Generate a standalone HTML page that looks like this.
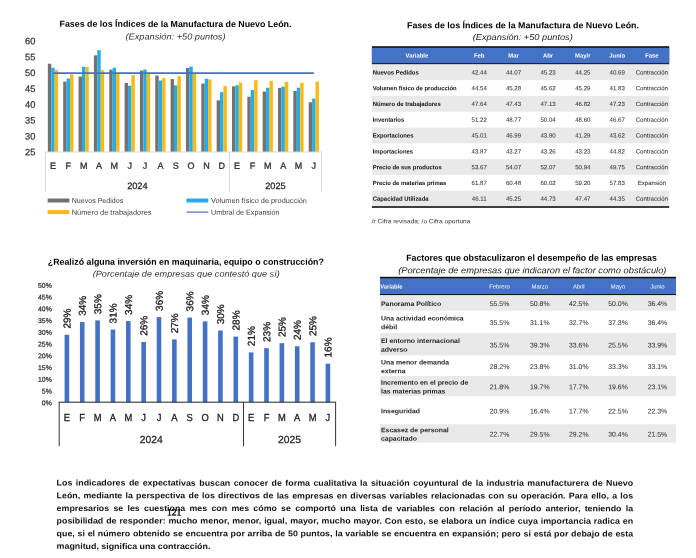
<!DOCTYPE html>
<html lang="es"><head><meta charset="utf-8"><title>Indicadores de expectativas - Manufactura de Nuevo León</title>
<style>
html,body{margin:0;padding:0;background:#fff}
body{width:696px;height:558px;position:relative;overflow:hidden;font-family:"Liberation Sans",sans-serif}
#pg{position:absolute;left:0;top:0;width:696px;height:558px;overflow:hidden;filter:blur(0.4px)}
svg{position:absolute;left:0;top:0}
.t{position:absolute;white-space:nowrap;transform-origin:0 0;margin:0;padding:0}
.b{font-weight:bold}.i{font-style:italic}
.pl{position:absolute;font-weight:bold;white-space:nowrap;text-align:justify;text-align-last:justify;transform-origin:0 0;color:#111}
.pl.last{text-align-last:left}
</style></head><body><div id="pg">
<svg width="696" height="558" viewBox="0 0 696 558">
<rect x="47.86" y="63.72" width="3.41" height="88.28" fill="#767171"/>
<rect x="51.27" y="67.68" width="3.41" height="84.32" fill="#1faee9"/>
<rect x="54.68" y="69.90" width="3.41" height="82.10" fill="#fdb913"/>
<rect x="63.20" y="81.63" width="3.41" height="70.37" fill="#767171"/>
<rect x="66.61" y="78.46" width="3.41" height="73.54" fill="#1faee9"/>
<rect x="70.02" y="74.34" width="3.41" height="77.66" fill="#fdb913"/>
<rect x="78.55" y="76.55" width="3.41" height="75.45" fill="#767171"/>
<rect x="81.96" y="66.73" width="3.41" height="85.27" fill="#1faee9"/>
<rect x="85.37" y="67.04" width="3.41" height="84.96" fill="#fdb913"/>
<rect x="93.89" y="55.31" width="3.41" height="96.69" fill="#767171"/>
<rect x="97.30" y="50.24" width="3.41" height="101.76" fill="#1faee9"/>
<rect x="100.71" y="70.21" width="3.41" height="81.79" fill="#fdb913"/>
<rect x="109.24" y="69.58" width="3.41" height="82.42" fill="#767171"/>
<rect x="112.65" y="67.68" width="3.41" height="84.32" fill="#1faee9"/>
<rect x="116.05" y="73.70" width="3.41" height="78.30" fill="#fdb913"/>
<rect x="124.58" y="82.89" width="3.41" height="69.11" fill="#767171"/>
<rect x="127.99" y="85.75" width="3.41" height="66.25" fill="#1faee9"/>
<rect x="131.40" y="75.29" width="3.41" height="76.71" fill="#fdb913"/>
<rect x="139.92" y="70.53" width="3.41" height="81.47" fill="#767171"/>
<rect x="143.33" y="69.58" width="3.41" height="82.42" fill="#1faee9"/>
<rect x="146.74" y="73.70" width="3.41" height="78.30" fill="#fdb913"/>
<rect x="155.27" y="75.60" width="3.41" height="76.40" fill="#767171"/>
<rect x="158.68" y="80.52" width="3.41" height="71.48" fill="#1faee9"/>
<rect x="162.09" y="78.14" width="3.41" height="73.86" fill="#fdb913"/>
<rect x="170.61" y="79.09" width="3.41" height="72.91" fill="#767171"/>
<rect x="174.02" y="85.27" width="3.41" height="66.73" fill="#1faee9"/>
<rect x="177.43" y="76.24" width="3.41" height="75.76" fill="#fdb913"/>
<rect x="185.96" y="68.00" width="3.41" height="84.00" fill="#767171"/>
<rect x="189.37" y="66.57" width="3.41" height="85.43" fill="#1faee9"/>
<rect x="192.78" y="73.70" width="3.41" height="78.30" fill="#fdb913"/>
<rect x="201.30" y="83.53" width="3.41" height="68.47" fill="#767171"/>
<rect x="204.71" y="78.77" width="3.41" height="73.23" fill="#1faee9"/>
<rect x="208.12" y="79.41" width="3.41" height="72.59" fill="#fdb913"/>
<rect x="216.65" y="100.33" width="3.41" height="51.67" fill="#767171"/>
<rect x="220.06" y="92.09" width="3.41" height="59.91" fill="#1faee9"/>
<rect x="223.47" y="86.06" width="3.41" height="65.94" fill="#fdb913"/>
<rect x="231.99" y="86.38" width="3.41" height="65.62" fill="#767171"/>
<rect x="235.40" y="85.27" width="3.41" height="66.73" fill="#1faee9"/>
<rect x="238.81" y="82.58" width="3.41" height="69.42" fill="#fdb913"/>
<rect x="247.34" y="96.72" width="3.41" height="55.28" fill="#767171"/>
<rect x="250.75" y="90.06" width="3.41" height="61.94" fill="#1faee9"/>
<rect x="254.15" y="80.23" width="3.41" height="71.77" fill="#fdb913"/>
<rect x="262.68" y="91.55" width="3.41" height="60.45" fill="#767171"/>
<rect x="266.09" y="87.71" width="3.41" height="64.29" fill="#1faee9"/>
<rect x="269.50" y="80.90" width="3.41" height="71.10" fill="#fdb913"/>
<rect x="278.02" y="87.87" width="3.41" height="64.13" fill="#767171"/>
<rect x="281.43" y="86.63" width="3.41" height="65.37" fill="#1faee9"/>
<rect x="284.84" y="81.85" width="3.41" height="70.15" fill="#fdb913"/>
<rect x="293.37" y="90.98" width="3.41" height="61.02" fill="#767171"/>
<rect x="296.78" y="87.68" width="3.41" height="64.32" fill="#1faee9"/>
<rect x="300.19" y="82.83" width="3.41" height="69.17" fill="#fdb913"/>
<rect x="308.71" y="102.26" width="3.41" height="49.74" fill="#767171"/>
<rect x="312.12" y="98.65" width="3.41" height="53.35" fill="#1faee9"/>
<rect x="315.53" y="81.53" width="3.41" height="70.47" fill="#fdb913"/>
<line x1="52.97" y1="73.15" x2="313.83" y2="73.15" stroke="#4472c4" stroke-width="1.8"/>
<line x1="45.30" y1="152.00" x2="321.50" y2="152.00" stroke="#d9d9d9" stroke-width="1"/>
<line x1="45.30" y1="152.00" x2="45.30" y2="191.50" stroke="#d9d9d9" stroke-width="1"/>
<line x1="229.43" y1="152.00" x2="229.43" y2="191.50" stroke="#d9d9d9" stroke-width="1"/>
<line x1="321.50" y1="152.00" x2="321.50" y2="191.50" stroke="#d9d9d9" stroke-width="1"/>
<rect x="47.60" y="198.50" width="21.80" height="4.00" fill="#767171"/>
<rect x="47.60" y="210.10" width="21.80" height="4.00" fill="#fdb913"/>
<rect x="186.50" y="198.50" width="21.80" height="4.00" fill="#1faee9"/>
<line x1="186.50" y1="212.10" x2="208.30" y2="212.10" stroke="#4472c4" stroke-width="1.2"/>
<rect x="64.58" y="334.75" width="4.60" height="67.45" fill="#4472c4"/>
<rect x="79.93" y="322.06" width="4.60" height="80.14" fill="#4472c4"/>
<rect x="95.29" y="320.42" width="4.60" height="81.78" fill="#4472c4"/>
<rect x="110.64" y="329.58" width="4.60" height="72.61" fill="#4472c4"/>
<rect x="126.00" y="321.12" width="4.60" height="81.08" fill="#4472c4"/>
<rect x="141.36" y="342.04" width="4.60" height="60.16" fill="#4472c4"/>
<rect x="156.71" y="317.13" width="4.60" height="85.07" fill="#4472c4"/>
<rect x="172.07" y="339.45" width="4.60" height="62.74" fill="#4472c4"/>
<rect x="187.42" y="317.60" width="4.60" height="84.60" fill="#4472c4"/>
<rect x="202.78" y="321.36" width="4.60" height="80.84" fill="#4472c4"/>
<rect x="218.13" y="330.52" width="4.60" height="71.67" fill="#4472c4"/>
<rect x="233.49" y="336.63" width="4.60" height="65.56" fill="#4472c4"/>
<rect x="248.84" y="352.38" width="4.60" height="49.82" fill="#4472c4"/>
<rect x="264.20" y="348.15" width="4.60" height="54.05" fill="#4472c4"/>
<rect x="279.56" y="343.21" width="4.60" height="58.99" fill="#4472c4"/>
<rect x="294.91" y="346.27" width="4.60" height="55.93" fill="#4472c4"/>
<rect x="310.27" y="342.27" width="4.60" height="59.93" fill="#4472c4"/>
<rect x="325.62" y="363.66" width="4.60" height="38.54" fill="#4472c4"/>
<line x1="58.70" y1="402.20" x2="336.10" y2="402.20" stroke="#222" stroke-width="1"/>
<line x1="59.20" y1="402.20" x2="59.20" y2="446.20" stroke="#333" stroke-width="1"/>
<line x1="243.47" y1="402.20" x2="243.47" y2="446.20" stroke="#333" stroke-width="1"/>
<line x1="335.60" y1="402.20" x2="335.60" y2="446.20" stroke="#333" stroke-width="1"/>
<rect x="371.90" y="46.20" width="297.30" height="18.40" fill="#111"/>
<rect x="371.90" y="47.80" width="297.30" height="15.40" fill="#4472c4"/>
<rect x="371.90" y="64.30" width="297.30" height="15.80" fill="#e9e9e9"/>
<rect x="371.90" y="95.90" width="297.30" height="15.80" fill="#e9e9e9"/>
<rect x="371.90" y="127.50" width="297.30" height="15.80" fill="#e9e9e9"/>
<rect x="371.90" y="159.10" width="297.30" height="15.80" fill="#e9e9e9"/>
<rect x="371.90" y="190.70" width="297.30" height="15.80" fill="#e9e9e9"/>
<rect x="371.90" y="206.20" width="297.30" height="1.60" fill="#111"/>
<rect x="380.00" y="276.80" width="296.00" height="18.60" fill="#111"/>
<rect x="380.00" y="278.30" width="296.00" height="15.70" fill="#4472c4"/>
<rect x="380.00" y="295.20" width="296.00" height="15.40" fill="#e9e9e9"/>
<rect x="380.00" y="333.00" width="296.00" height="22.50" fill="#e9e9e9"/>
<rect x="380.00" y="376.00" width="296.00" height="20.20" fill="#e9e9e9"/>
<rect x="380.00" y="424.30" width="296.00" height="18.30" fill="#e9e9e9"/>
</svg>
<div class="t b" style="font-size:8.8px;color:#000;line-height:10px;left:59px;top:18px;transform:translate(0.50px,0.83px) rotate(0.03deg) scaleX(1.005);">Fases de los Índices de la Manufactura de Nuevo León.</div>
<div class="t i" style="font-size:8.6px;color:#333;line-height:10px;left:125px;top:31px;transform:translate(0.50px,0.56px) rotate(0.03deg) scaleX(1.071);">(Expansión: +50 puntos)</div>
<div class="t" style="font-size:9.3px;color:#333;-webkit-text-stroke:0.25px #333;line-height:10px;left:24px;top:147px;transform:translate(0.96px,0.30px) rotate(0.03deg);">25</div>
<div class="t" style="font-size:9.3px;color:#333;-webkit-text-stroke:0.25px #333;line-height:10px;left:24px;top:131px;transform:translate(0.96px,0.45px) rotate(0.03deg);">30</div>
<div class="t" style="font-size:9.3px;color:#333;-webkit-text-stroke:0.25px #333;line-height:10px;left:24px;top:115px;transform:translate(0.96px,0.60px) rotate(0.03deg);">35</div>
<div class="t" style="font-size:9.3px;color:#333;-webkit-text-stroke:0.25px #333;line-height:10px;left:24px;top:99px;transform:translate(0.96px,0.75px) rotate(0.03deg);">40</div>
<div class="t" style="font-size:9.3px;color:#333;-webkit-text-stroke:0.25px #333;line-height:10px;left:24px;top:83px;transform:translate(0.96px,0.90px) rotate(0.03deg);">45</div>
<div class="t" style="font-size:9.3px;color:#333;-webkit-text-stroke:0.25px #333;line-height:10px;left:24px;top:68px;transform:translate(0.96px,0.05px) rotate(0.03deg);">50</div>
<div class="t" style="font-size:9.3px;color:#333;-webkit-text-stroke:0.25px #333;line-height:10px;left:24px;top:52px;transform:translate(0.96px,0.20px) rotate(0.03deg);">55</div>
<div class="t" style="font-size:9.3px;color:#333;-webkit-text-stroke:0.25px #333;line-height:10px;left:24px;top:36px;transform:translate(0.96px,0.35px) rotate(0.03deg);">60</div>
<div class="t" style="font-size:9.0px;color:#303030;-webkit-text-stroke:0.3px #303030;line-height:10px;left:49px;top:160px;transform:translate(0.96px,0.70px) rotate(0.03deg);">E</div>
<div class="t" style="font-size:9.0px;color:#303030;-webkit-text-stroke:0.3px #303030;line-height:10px;left:65px;top:160px;transform:translate(0.57px,0.70px) rotate(0.03deg);">F</div>
<div class="t" style="font-size:9.0px;color:#303030;-webkit-text-stroke:0.3px #303030;line-height:10px;left:79px;top:160px;transform:translate(0.91px,0.70px) rotate(0.03deg);">M</div>
<div class="t" style="font-size:9.0px;color:#303030;-webkit-text-stroke:0.3px #303030;line-height:10px;left:95px;top:160px;transform:translate(1.00px,0.70px) rotate(0.03deg);">A</div>
<div class="t" style="font-size:9.0px;color:#303030;-webkit-text-stroke:0.3px #303030;line-height:10px;left:110px;top:160px;transform:translate(0.60px,0.70px) rotate(0.03deg);">M</div>
<div class="t" style="font-size:9.0px;color:#303030;-webkit-text-stroke:0.3px #303030;line-height:10px;left:127px;top:160px;transform:translate(0.44px,0.70px) rotate(0.03deg);">J</div>
<div class="t" style="font-size:9.0px;color:#303030;-webkit-text-stroke:0.3px #303030;line-height:10px;left:142px;top:160px;transform:translate(0.79px,0.70px) rotate(0.03deg);">J</div>
<div class="t" style="font-size:9.0px;color:#303030;-webkit-text-stroke:0.3px #303030;line-height:10px;left:157px;top:160px;transform:translate(0.38px,0.70px) rotate(0.03deg);">A</div>
<div class="t" style="font-size:9.0px;color:#303030;-webkit-text-stroke:0.3px #303030;line-height:10px;left:172px;top:160px;transform:translate(0.72px,0.70px) rotate(0.03deg);">S</div>
<div class="t" style="font-size:9.0px;color:#303030;-webkit-text-stroke:0.3px #303030;line-height:10px;left:187px;top:160px;transform:translate(0.56px,0.70px) rotate(0.03deg);">O</div>
<div class="t" style="font-size:9.0px;color:#303030;-webkit-text-stroke:0.3px #303030;line-height:10px;left:203px;top:160px;transform:translate(0.17px,0.70px) rotate(0.03deg);">N</div>
<div class="t" style="font-size:9.0px;color:#303030;-webkit-text-stroke:0.3px #303030;line-height:10px;left:218px;top:160px;transform:translate(0.51px,0.70px) rotate(0.03deg);">D</div>
<div class="t" style="font-size:9.0px;color:#303030;-webkit-text-stroke:0.3px #303030;line-height:10px;left:234px;top:160px;transform:translate(0.10px,0.70px) rotate(0.03deg);">E</div>
<div class="t" style="font-size:9.0px;color:#303030;-webkit-text-stroke:0.3px #303030;line-height:10px;left:249px;top:160px;transform:translate(0.70px,0.70px) rotate(0.03deg);">F</div>
<div class="t" style="font-size:9.0px;color:#303030;-webkit-text-stroke:0.3px #303030;line-height:10px;left:264px;top:160px;transform:translate(0.04px,0.70px) rotate(0.03deg);">M</div>
<div class="t" style="font-size:9.0px;color:#303030;-webkit-text-stroke:0.3px #303030;line-height:10px;left:280px;top:160px;transform:translate(0.13px,0.70px) rotate(0.03deg);">A</div>
<div class="t" style="font-size:9.0px;color:#303030;-webkit-text-stroke:0.3px #303030;line-height:10px;left:294px;top:160px;transform:translate(0.73px,0.70px) rotate(0.03deg);">M</div>
<div class="t" style="font-size:9.0px;color:#303030;-webkit-text-stroke:0.3px #303030;line-height:10px;left:311px;top:160px;transform:translate(0.58px,0.70px) rotate(0.03deg);">J</div>
<div class="t" style="font-size:9.2px;color:#222;-webkit-text-stroke:0.25px #222;line-height:10px;left:127px;top:180px;transform:translate(0.14px,0.96px) rotate(0.03deg);">2024</div>
<div class="t" style="font-size:9.2px;color:#222;-webkit-text-stroke:0.25px #222;line-height:10px;left:265px;top:180px;transform:translate(0.24px,0.96px) rotate(0.03deg);">2025</div>
<div class="t" style="font-size:7.2px;color:#404040;line-height:9px;left:71px;top:196px;transform:translate(0.70px,0.08px) rotate(0.03deg) scaleX(0.984);">Nuevos Pedidos</div>
<div class="t" style="font-size:7.2px;color:#404040;line-height:9px;left:71px;top:207px;transform:translate(0.70px,0.68px) rotate(0.03deg) scaleX(1.029);">Número de trabajadores</div>
<div class="t" style="font-size:7.2px;color:#404040;line-height:9px;left:211px;top:196px;transform:translate(0.00px,0.08px) rotate(0.03deg) scaleX(1.022);">Volumen físico de producción</div>
<div class="t" style="font-size:7.2px;color:#404040;line-height:9px;left:211px;top:207px;transform:translate(0.00px,0.68px) rotate(0.03deg) scaleX(0.997);">Umbral de Expansión</div>
<div class="t b" style="font-size:8.8px;color:#000;line-height:10px;left:47px;top:256px;transform:translate(0.80px,0.63px) rotate(0.03deg) scaleX(1.003);">¿Realizó alguna inversión en maquinaria, equipo o construcción?</div>
<div class="t i" style="font-size:8.6px;color:#333;line-height:10px;left:92px;top:268px;transform:translate(0.70px,0.76px) rotate(0.03deg) scaleX(1.061);">(Porcentaje de empresas que contestó que sí)</div>
<div class="t" style="font-size:6.9px;color:#333;-webkit-text-stroke:0.25px #333;line-height:7px;left:41px;top:399px;transform:translate(0.83px,0.37px) rotate(0.03deg);">0%</div>
<div class="t" style="font-size:6.9px;color:#333;-webkit-text-stroke:0.25px #333;line-height:7px;left:41px;top:387px;transform:translate(0.83px,0.62px) rotate(0.03deg);">5%</div>
<div class="t" style="font-size:6.9px;color:#333;-webkit-text-stroke:0.25px #333;line-height:7px;left:38px;top:375px;transform:translate(0.00px,0.87px) rotate(0.03deg);">10%</div>
<div class="t" style="font-size:6.9px;color:#333;-webkit-text-stroke:0.25px #333;line-height:7px;left:38px;top:364px;transform:translate(0.00px,0.12px) rotate(0.03deg);">15%</div>
<div class="t" style="font-size:6.9px;color:#333;-webkit-text-stroke:0.25px #333;line-height:7px;left:38px;top:352px;transform:translate(0.00px,0.37px) rotate(0.03deg);">20%</div>
<div class="t" style="font-size:6.9px;color:#333;-webkit-text-stroke:0.25px #333;line-height:7px;left:38px;top:340px;transform:translate(0.00px,0.62px) rotate(0.03deg);">25%</div>
<div class="t" style="font-size:6.9px;color:#333;-webkit-text-stroke:0.25px #333;line-height:7px;left:38px;top:328px;transform:translate(0.00px,0.87px) rotate(0.03deg);">30%</div>
<div class="t" style="font-size:6.9px;color:#333;-webkit-text-stroke:0.25px #333;line-height:7px;left:38px;top:317px;transform:translate(0.00px,0.12px) rotate(0.03deg);">35%</div>
<div class="t" style="font-size:6.9px;color:#333;-webkit-text-stroke:0.25px #333;line-height:7px;left:38px;top:305px;transform:translate(0.00px,0.37px) rotate(0.03deg);">40%</div>
<div class="t" style="font-size:6.9px;color:#333;-webkit-text-stroke:0.25px #333;line-height:7px;left:38px;top:293px;transform:translate(0.00px,0.62px) rotate(0.03deg);">45%</div>
<div class="t" style="font-size:6.9px;color:#333;-webkit-text-stroke:0.25px #333;line-height:7px;left:38px;top:281px;transform:translate(0.00px,0.87px) rotate(0.03deg);">50%</div>
<div class="t" style="font-size:10px;color:#1a1a1a;-webkit-text-stroke:0.3px #1a1a1a;line-height:11px;left:61px;top:328px;transform:translate(0.52px,0.56px) rotate(-89.97deg) scaleX(1.000);">29%</div>
<div class="t" style="font-size:10px;color:#1a1a1a;-webkit-text-stroke:0.3px #1a1a1a;line-height:11px;left:76px;top:315px;transform:translate(0.87px,0.87px) rotate(-89.97deg) scaleX(1.000);">34%</div>
<div class="t" style="font-size:10px;color:#1a1a1a;-webkit-text-stroke:0.3px #1a1a1a;line-height:11px;left:92px;top:314px;transform:translate(0.23px,0.22px) rotate(-89.97deg) scaleX(1.000);">35%</div>
<div class="t" style="font-size:10px;color:#1a1a1a;-webkit-text-stroke:0.3px #1a1a1a;line-height:11px;left:107px;top:323px;transform:translate(0.58px,0.38px) rotate(-89.97deg) scaleX(1.000);">31%</div>
<div class="t" style="font-size:10px;color:#1a1a1a;-webkit-text-stroke:0.3px #1a1a1a;line-height:11px;left:122px;top:314px;transform:translate(0.94px,0.93px) rotate(-89.97deg) scaleX(1.000);">34%</div>
<div class="t" style="font-size:10px;color:#1a1a1a;-webkit-text-stroke:0.3px #1a1a1a;line-height:11px;left:138px;top:335px;transform:translate(0.30px,0.84px) rotate(-89.97deg) scaleX(1.000);">26%</div>
<div class="t" style="font-size:10px;color:#1a1a1a;-webkit-text-stroke:0.3px #1a1a1a;line-height:11px;left:153px;top:310px;transform:translate(0.65px,0.93px) rotate(-89.97deg) scaleX(1.000);">36%</div>
<div class="t" style="font-size:10px;color:#1a1a1a;-webkit-text-stroke:0.3px #1a1a1a;line-height:11px;left:169px;top:333px;transform:translate(0.01px,0.25px) rotate(-89.97deg) scaleX(1.000);">27%</div>
<div class="t" style="font-size:10px;color:#1a1a1a;-webkit-text-stroke:0.3px #1a1a1a;line-height:11px;left:184px;top:311px;transform:translate(0.36px,0.40px) rotate(-89.97deg) scaleX(1.000);">36%</div>
<div class="t" style="font-size:10px;color:#1a1a1a;-webkit-text-stroke:0.3px #1a1a1a;line-height:11px;left:199px;top:315px;transform:translate(0.72px,0.16px) rotate(-89.97deg) scaleX(1.000);">34%</div>
<div class="t" style="font-size:10px;color:#1a1a1a;-webkit-text-stroke:0.3px #1a1a1a;line-height:11px;left:215px;top:324px;transform:translate(0.07px,0.32px) rotate(-89.97deg) scaleX(1.000);">30%</div>
<div class="t" style="font-size:10px;color:#1a1a1a;-webkit-text-stroke:0.3px #1a1a1a;line-height:11px;left:230px;top:330px;transform:translate(0.43px,0.44px) rotate(-89.97deg) scaleX(1.000);">28%</div>
<div class="t" style="font-size:10px;color:#1a1a1a;-webkit-text-stroke:0.3px #1a1a1a;line-height:11px;left:245px;top:346px;transform:translate(0.78px,0.18px) rotate(-89.97deg) scaleX(1.000);">21%</div>
<div class="t" style="font-size:10px;color:#1a1a1a;-webkit-text-stroke:0.3px #1a1a1a;line-height:11px;left:261px;top:341px;transform:translate(0.14px,0.95px) rotate(-89.97deg) scaleX(1.000);">23%</div>
<div class="t" style="font-size:10px;color:#1a1a1a;-webkit-text-stroke:0.3px #1a1a1a;line-height:11px;left:276px;top:337px;transform:translate(0.50px,0.01px) rotate(-89.97deg) scaleX(1.000);">25%</div>
<div class="t" style="font-size:10px;color:#1a1a1a;-webkit-text-stroke:0.3px #1a1a1a;line-height:11px;left:291px;top:340px;transform:translate(0.85px,0.07px) rotate(-89.97deg) scaleX(1.000);">24%</div>
<div class="t" style="font-size:10px;color:#1a1a1a;-webkit-text-stroke:0.3px #1a1a1a;line-height:11px;left:307px;top:336px;transform:translate(0.21px,0.07px) rotate(-89.97deg) scaleX(1.000);">25%</div>
<div class="t" style="font-size:10px;color:#1a1a1a;-webkit-text-stroke:0.3px #1a1a1a;line-height:11px;left:322px;top:357px;transform:translate(0.56px,0.46px) rotate(-89.97deg) scaleX(1.000);">16%</div>
<div class="t" style="font-size:10.2px;color:#222;-webkit-text-stroke:0.3px #222;line-height:11px;left:63px;top:411px;transform:translate(0.75px,0.71px) rotate(0.03deg) scaleX(0.920);">E</div>
<div class="t" style="font-size:10.2px;color:#222;-webkit-text-stroke:0.3px #222;line-height:11px;left:79px;top:411px;transform:translate(0.37px,0.71px) rotate(0.03deg) scaleX(0.920);">F</div>
<div class="t" style="font-size:10.2px;color:#222;-webkit-text-stroke:0.3px #222;line-height:11px;left:93px;top:411px;transform:translate(0.68px,0.71px) rotate(0.03deg) scaleX(0.920);">M</div>
<div class="t" style="font-size:10.2px;color:#222;-webkit-text-stroke:0.3px #222;line-height:11px;left:109px;top:411px;transform:translate(0.82px,0.71px) rotate(0.03deg) scaleX(0.920);">A</div>
<div class="t" style="font-size:10.2px;color:#222;-webkit-text-stroke:0.3px #222;line-height:11px;left:124px;top:411px;transform:translate(0.39px,0.71px) rotate(0.03deg) scaleX(0.920);">M</div>
<div class="t" style="font-size:10.2px;color:#222;-webkit-text-stroke:0.3px #222;line-height:11px;left:141px;top:411px;transform:translate(0.31px,0.71px) rotate(0.03deg) scaleX(0.920);">J</div>
<div class="t" style="font-size:10.2px;color:#222;-webkit-text-stroke:0.3px #222;line-height:11px;left:156px;top:411px;transform:translate(0.67px,0.71px) rotate(0.03deg) scaleX(0.920);">J</div>
<div class="t" style="font-size:10.2px;color:#222;-webkit-text-stroke:0.3px #222;line-height:11px;left:171px;top:411px;transform:translate(0.24px,0.71px) rotate(0.03deg) scaleX(0.920);">A</div>
<div class="t" style="font-size:10.2px;color:#222;-webkit-text-stroke:0.3px #222;line-height:11px;left:186px;top:411px;transform:translate(0.60px,0.71px) rotate(0.03deg) scaleX(0.920);">S</div>
<div class="t" style="font-size:10.2px;color:#222;-webkit-text-stroke:0.3px #222;line-height:11px;left:201px;top:411px;transform:translate(0.43px,0.71px) rotate(0.03deg) scaleX(0.920);">O</div>
<div class="t" style="font-size:10.2px;color:#222;-webkit-text-stroke:0.3px #222;line-height:11px;left:217px;top:411px;transform:translate(0.05px,0.71px) rotate(0.03deg) scaleX(0.920);">N</div>
<div class="t" style="font-size:10.2px;color:#222;-webkit-text-stroke:0.3px #222;line-height:11px;left:232px;top:411px;transform:translate(0.40px,0.71px) rotate(0.03deg) scaleX(0.920);">D</div>
<div class="t" style="font-size:10.2px;color:#222;-webkit-text-stroke:0.3px #222;line-height:11px;left:248px;top:411px;transform:translate(0.02px,0.71px) rotate(0.03deg) scaleX(0.920);">E</div>
<div class="t" style="font-size:10.2px;color:#222;-webkit-text-stroke:0.3px #222;line-height:11px;left:263px;top:411px;transform:translate(0.63px,0.71px) rotate(0.03deg) scaleX(0.920);">F</div>
<div class="t" style="font-size:10.2px;color:#222;-webkit-text-stroke:0.3px #222;line-height:11px;left:277px;top:411px;transform:translate(0.95px,0.71px) rotate(0.03deg) scaleX(0.920);">M</div>
<div class="t" style="font-size:10.2px;color:#222;-webkit-text-stroke:0.3px #222;line-height:11px;left:294px;top:411px;transform:translate(0.08px,0.71px) rotate(0.03deg) scaleX(0.920);">A</div>
<div class="t" style="font-size:10.2px;color:#222;-webkit-text-stroke:0.3px #222;line-height:11px;left:308px;top:411px;transform:translate(0.66px,0.71px) rotate(0.03deg) scaleX(0.920);">M</div>
<div class="t" style="font-size:10.2px;color:#222;-webkit-text-stroke:0.3px #222;line-height:11px;left:325px;top:411px;transform:translate(0.58px,0.71px) rotate(0.03deg) scaleX(0.920);">J</div>
<div class="t" style="font-size:10.3px;color:#222;-webkit-text-stroke:0.25px #222;line-height:11px;left:139px;top:433px;transform:translate(0.87px,0.94px) rotate(0.03deg);">2024</div>
<div class="t" style="font-size:10.3px;color:#222;-webkit-text-stroke:0.25px #222;line-height:11px;left:278px;top:433px;transform:translate(0.07px,0.94px) rotate(0.03deg);">2025</div>
<div class="t b" style="font-size:8.8px;color:#000;line-height:10px;left:407px;top:20px;transform:translate(0.00px,0.23px) rotate(0.03deg) scaleX(1.005);">Fases de los Índices de la Manufactura de Nuevo León.</div>
<div class="t i" style="font-size:8.6px;color:#222;line-height:10px;left:472px;top:31px;transform:translate(0.70px,0.96px) rotate(0.03deg) scaleX(1.071);">(Expansión: +50 puntos)</div>
<div class="t b" style="font-size:5.9px;color:#fff;line-height:6px;left:405px;top:52px;transform:translate(0.60px,0.53px) rotate(0.03deg);">Variable</div>
<div class="t b" style="font-size:5.9px;color:#fff;line-height:6px;left:473px;top:52px;transform:translate(0.96px,0.53px) rotate(0.03deg);">Feb</div>
<div class="t b" style="font-size:5.9px;color:#fff;line-height:6px;left:508px;top:52px;transform:translate(0.26px,0.53px) rotate(0.03deg);">Mar</div>
<div class="t b" style="font-size:5.9px;color:#fff;line-height:6px;left:543px;top:52px;transform:translate(0.02px,0.53px) rotate(0.03deg);">Abr</div>
<div class="t b" style="font-size:5.9px;color:#fff;line-height:6px;left:575px;top:52px;transform:translate(0.10px,0.53px) rotate(0.03deg);">May/r</div>
<div class="t b" style="font-size:5.9px;color:#fff;line-height:6px;left:609px;top:52px;transform:translate(0.34px,0.53px) rotate(0.03deg);">Jun/o</div>
<div class="t b" style="font-size:5.9px;color:#fff;line-height:6px;left:645px;top:52px;transform:translate(0.18px,0.53px) rotate(0.03deg);">Fase</div>
<div class="t b" style="font-size:6.1px;color:#111;line-height:7px;left:372px;top:68px;transform:translate(0.70px,0.40px) rotate(0.03deg) scaleX(0.970);">Nuevos Pedidos</div>
<div class="t" style="font-size:6.1px;color:#333;-webkit-text-stroke:0.05px #333;line-height:7px;left:471px;top:68px;transform:translate(0.57px,0.40px) rotate(0.03deg);">42.44</div>
<div class="t" style="font-size:6.1px;color:#333;-webkit-text-stroke:0.05px #333;line-height:7px;left:505px;top:68px;transform:translate(0.88px,0.40px) rotate(0.03deg);">44.07</div>
<div class="t" style="font-size:6.1px;color:#333;-webkit-text-stroke:0.05px #333;line-height:7px;left:540px;top:68px;transform:translate(0.48px,0.40px) rotate(0.03deg);">45.23</div>
<div class="t" style="font-size:6.1px;color:#333;-webkit-text-stroke:0.05px #333;line-height:7px;left:575px;top:68px;transform:translate(0.17px,0.40px) rotate(0.03deg);">44.25</div>
<div class="t" style="font-size:6.1px;color:#333;-webkit-text-stroke:0.05px #333;line-height:7px;left:609px;top:68px;transform:translate(0.58px,0.40px) rotate(0.03deg);">40.69</div>
<div class="t" style="font-size:6.1px;color:#333;-webkit-text-stroke:0.05px #333;line-height:7px;left:635px;top:68px;transform:translate(0.63px,0.40px) rotate(0.03deg);">Contracción</div>
<div class="t b" style="font-size:6.1px;color:#111;line-height:7px;left:372px;top:84px;transform:translate(0.70px,0.20px) rotate(0.03deg) scaleX(0.970);">Volumen físico de producción</div>
<div class="t" style="font-size:6.1px;color:#333;-webkit-text-stroke:0.05px #333;line-height:7px;left:471px;top:84px;transform:translate(0.57px,0.20px) rotate(0.03deg);">44.54</div>
<div class="t" style="font-size:6.1px;color:#333;-webkit-text-stroke:0.05px #333;line-height:7px;left:505px;top:84px;transform:translate(0.88px,0.20px) rotate(0.03deg);">45.28</div>
<div class="t" style="font-size:6.1px;color:#333;-webkit-text-stroke:0.05px #333;line-height:7px;left:540px;top:84px;transform:translate(0.48px,0.20px) rotate(0.03deg);">45.62</div>
<div class="t" style="font-size:6.1px;color:#333;-webkit-text-stroke:0.05px #333;line-height:7px;left:575px;top:84px;transform:translate(0.17px,0.20px) rotate(0.03deg);">45.29</div>
<div class="t" style="font-size:6.1px;color:#333;-webkit-text-stroke:0.05px #333;line-height:7px;left:609px;top:84px;transform:translate(0.58px,0.20px) rotate(0.03deg);">41.83</div>
<div class="t" style="font-size:6.1px;color:#333;-webkit-text-stroke:0.05px #333;line-height:7px;left:635px;top:84px;transform:translate(0.63px,0.20px) rotate(0.03deg);">Contracción</div>
<div class="t b" style="font-size:6.1px;color:#111;line-height:7px;left:372px;top:99px;transform:translate(0.70px,1.00px) rotate(0.03deg) scaleX(0.970);">Número de trabajadores</div>
<div class="t" style="font-size:6.1px;color:#333;-webkit-text-stroke:0.05px #333;line-height:7px;left:471px;top:99px;transform:translate(0.57px,1.00px) rotate(0.03deg);">47.64</div>
<div class="t" style="font-size:6.1px;color:#333;-webkit-text-stroke:0.05px #333;line-height:7px;left:505px;top:99px;transform:translate(0.88px,1.00px) rotate(0.03deg);">47.43</div>
<div class="t" style="font-size:6.1px;color:#333;-webkit-text-stroke:0.05px #333;line-height:7px;left:540px;top:99px;transform:translate(0.48px,1.00px) rotate(0.03deg);">47.13</div>
<div class="t" style="font-size:6.1px;color:#333;-webkit-text-stroke:0.05px #333;line-height:7px;left:575px;top:99px;transform:translate(0.17px,1.00px) rotate(0.03deg);">46.82</div>
<div class="t" style="font-size:6.1px;color:#333;-webkit-text-stroke:0.05px #333;line-height:7px;left:609px;top:99px;transform:translate(0.58px,1.00px) rotate(0.03deg);">47.23</div>
<div class="t" style="font-size:6.1px;color:#333;-webkit-text-stroke:0.05px #333;line-height:7px;left:635px;top:99px;transform:translate(0.63px,1.00px) rotate(0.03deg);">Contracción</div>
<div class="t b" style="font-size:6.1px;color:#111;line-height:7px;left:372px;top:115px;transform:translate(0.70px,0.80px) rotate(0.03deg) scaleX(0.970);">Inventarios</div>
<div class="t" style="font-size:6.1px;color:#333;-webkit-text-stroke:0.05px #333;line-height:7px;left:471px;top:115px;transform:translate(0.57px,0.80px) rotate(0.03deg);">51.22</div>
<div class="t" style="font-size:6.1px;color:#333;-webkit-text-stroke:0.05px #333;line-height:7px;left:505px;top:115px;transform:translate(0.88px,0.80px) rotate(0.03deg);">48.77</div>
<div class="t" style="font-size:6.1px;color:#333;-webkit-text-stroke:0.05px #333;line-height:7px;left:540px;top:115px;transform:translate(0.48px,0.80px) rotate(0.03deg);">50.04</div>
<div class="t" style="font-size:6.1px;color:#333;-webkit-text-stroke:0.05px #333;line-height:7px;left:575px;top:115px;transform:translate(0.17px,0.80px) rotate(0.03deg);">48.60</div>
<div class="t" style="font-size:6.1px;color:#333;-webkit-text-stroke:0.05px #333;line-height:7px;left:609px;top:115px;transform:translate(0.58px,0.80px) rotate(0.03deg);">46.67</div>
<div class="t" style="font-size:6.1px;color:#333;-webkit-text-stroke:0.05px #333;line-height:7px;left:635px;top:115px;transform:translate(0.63px,0.80px) rotate(0.03deg);">Contracción</div>
<div class="t b" style="font-size:6.1px;color:#111;line-height:7px;left:372px;top:131px;transform:translate(0.70px,0.60px) rotate(0.03deg) scaleX(0.970);">Exportaciones</div>
<div class="t" style="font-size:6.1px;color:#333;-webkit-text-stroke:0.05px #333;line-height:7px;left:471px;top:131px;transform:translate(0.57px,0.60px) rotate(0.03deg);">45.01</div>
<div class="t" style="font-size:6.1px;color:#333;-webkit-text-stroke:0.05px #333;line-height:7px;left:505px;top:131px;transform:translate(0.88px,0.60px) rotate(0.03deg);">46.99</div>
<div class="t" style="font-size:6.1px;color:#333;-webkit-text-stroke:0.05px #333;line-height:7px;left:540px;top:131px;transform:translate(0.48px,0.60px) rotate(0.03deg);">43.90</div>
<div class="t" style="font-size:6.1px;color:#333;-webkit-text-stroke:0.05px #333;line-height:7px;left:575px;top:131px;transform:translate(0.17px,0.60px) rotate(0.03deg);">41.29</div>
<div class="t" style="font-size:6.1px;color:#333;-webkit-text-stroke:0.05px #333;line-height:7px;left:609px;top:131px;transform:translate(0.58px,0.60px) rotate(0.03deg);">43.62</div>
<div class="t" style="font-size:6.1px;color:#333;-webkit-text-stroke:0.05px #333;line-height:7px;left:635px;top:131px;transform:translate(0.63px,0.60px) rotate(0.03deg);">Contracción</div>
<div class="t b" style="font-size:6.1px;color:#111;line-height:7px;left:372px;top:147px;transform:translate(0.70px,0.40px) rotate(0.03deg) scaleX(0.970);">Importaciones</div>
<div class="t" style="font-size:6.1px;color:#333;-webkit-text-stroke:0.05px #333;line-height:7px;left:471px;top:147px;transform:translate(0.57px,0.40px) rotate(0.03deg);">43.87</div>
<div class="t" style="font-size:6.1px;color:#333;-webkit-text-stroke:0.05px #333;line-height:7px;left:505px;top:147px;transform:translate(0.88px,0.40px) rotate(0.03deg);">43.27</div>
<div class="t" style="font-size:6.1px;color:#333;-webkit-text-stroke:0.05px #333;line-height:7px;left:540px;top:147px;transform:translate(0.48px,0.40px) rotate(0.03deg);">43.26</div>
<div class="t" style="font-size:6.1px;color:#333;-webkit-text-stroke:0.05px #333;line-height:7px;left:575px;top:147px;transform:translate(0.17px,0.40px) rotate(0.03deg);">43.23</div>
<div class="t" style="font-size:6.1px;color:#333;-webkit-text-stroke:0.05px #333;line-height:7px;left:609px;top:147px;transform:translate(0.58px,0.40px) rotate(0.03deg);">44.82</div>
<div class="t" style="font-size:6.1px;color:#333;-webkit-text-stroke:0.05px #333;line-height:7px;left:635px;top:147px;transform:translate(0.63px,0.40px) rotate(0.03deg);">Contracción</div>
<div class="t b" style="font-size:6.1px;color:#111;line-height:7px;left:372px;top:163px;transform:translate(0.70px,0.20px) rotate(0.03deg) scaleX(0.970);">Precio de sus productos</div>
<div class="t" style="font-size:6.1px;color:#333;-webkit-text-stroke:0.05px #333;line-height:7px;left:471px;top:163px;transform:translate(0.57px,0.20px) rotate(0.03deg);">53.67</div>
<div class="t" style="font-size:6.1px;color:#333;-webkit-text-stroke:0.05px #333;line-height:7px;left:505px;top:163px;transform:translate(0.88px,0.20px) rotate(0.03deg);">54.07</div>
<div class="t" style="font-size:6.1px;color:#333;-webkit-text-stroke:0.05px #333;line-height:7px;left:540px;top:163px;transform:translate(0.48px,0.20px) rotate(0.03deg);">52.07</div>
<div class="t" style="font-size:6.1px;color:#333;-webkit-text-stroke:0.05px #333;line-height:7px;left:575px;top:163px;transform:translate(0.17px,0.20px) rotate(0.03deg);">50.94</div>
<div class="t" style="font-size:6.1px;color:#333;-webkit-text-stroke:0.05px #333;line-height:7px;left:609px;top:163px;transform:translate(0.58px,0.20px) rotate(0.03deg);">49.75</div>
<div class="t" style="font-size:6.1px;color:#333;-webkit-text-stroke:0.05px #333;line-height:7px;left:635px;top:163px;transform:translate(0.63px,0.20px) rotate(0.03deg);">Contracción</div>
<div class="t b" style="font-size:6.1px;color:#111;line-height:7px;left:372px;top:178px;transform:translate(0.70px,1.00px) rotate(0.03deg) scaleX(0.970);">Precio de materias primas</div>
<div class="t" style="font-size:6.1px;color:#333;-webkit-text-stroke:0.05px #333;line-height:7px;left:471px;top:178px;transform:translate(0.57px,1.00px) rotate(0.03deg);">61.87</div>
<div class="t" style="font-size:6.1px;color:#333;-webkit-text-stroke:0.05px #333;line-height:7px;left:505px;top:178px;transform:translate(0.88px,1.00px) rotate(0.03deg);">60.48</div>
<div class="t" style="font-size:6.1px;color:#333;-webkit-text-stroke:0.05px #333;line-height:7px;left:540px;top:178px;transform:translate(0.48px,1.00px) rotate(0.03deg);">60.02</div>
<div class="t" style="font-size:6.1px;color:#333;-webkit-text-stroke:0.05px #333;line-height:7px;left:575px;top:178px;transform:translate(0.17px,1.00px) rotate(0.03deg);">59.20</div>
<div class="t" style="font-size:6.1px;color:#333;-webkit-text-stroke:0.05px #333;line-height:7px;left:609px;top:178px;transform:translate(0.58px,1.00px) rotate(0.03deg);">57.83</div>
<div class="t" style="font-size:6.1px;color:#333;-webkit-text-stroke:0.05px #333;line-height:7px;left:637px;top:178px;transform:translate(0.67px,1.00px) rotate(0.03deg);">Expansión</div>
<div class="t b" style="font-size:6.1px;color:#111;line-height:7px;left:372px;top:194px;transform:translate(0.70px,0.80px) rotate(0.03deg) scaleX(0.970);">Capacidad Utilizada</div>
<div class="t" style="font-size:6.1px;color:#333;-webkit-text-stroke:0.05px #333;line-height:7px;left:471px;top:194px;transform:translate(0.80px,0.80px) rotate(0.03deg);">46.11</div>
<div class="t" style="font-size:6.1px;color:#333;-webkit-text-stroke:0.05px #333;line-height:7px;left:505px;top:194px;transform:translate(0.88px,0.80px) rotate(0.03deg);">45.25</div>
<div class="t" style="font-size:6.1px;color:#333;-webkit-text-stroke:0.05px #333;line-height:7px;left:540px;top:194px;transform:translate(0.48px,0.80px) rotate(0.03deg);">44.73</div>
<div class="t" style="font-size:6.1px;color:#333;-webkit-text-stroke:0.05px #333;line-height:7px;left:575px;top:194px;transform:translate(0.17px,0.80px) rotate(0.03deg);">47.47</div>
<div class="t" style="font-size:6.1px;color:#333;-webkit-text-stroke:0.05px #333;line-height:7px;left:609px;top:194px;transform:translate(0.58px,0.80px) rotate(0.03deg);">44.35</div>
<div class="t" style="font-size:6.1px;color:#333;-webkit-text-stroke:0.05px #333;line-height:7px;left:635px;top:194px;transform:translate(0.63px,0.80px) rotate(0.03deg);">Contracción</div>
<div class="t" style="font-size:6.1px;color:#333;line-height:7px;left:371px;top:217px;transform:translate(0.70px,0.30px) rotate(0.03deg) scaleX(1.075);">/r  Cifra revisada; /o  Cifra oportuna</div>
<div class="t b" style="font-size:8.9px;color:#000;line-height:10px;left:406px;top:252px;transform:translate(0.15px,0.66px) rotate(0.03deg) scaleX(0.989);">Factores que obstaculizaron el desempeño de las empresas</div>
<div class="t i" style="font-size:8.8px;color:#222;line-height:10px;left:398px;top:265px;transform:translate(0.15px,0.23px) rotate(0.03deg) scaleX(1.055);">(Porcentaje de empresas que indicaron el factor como obstáculo)</div>
<div class="t b" style="font-size:5.8px;color:#fff;line-height:6px;left:380px;top:283px;transform:translate(0.20px,0.50px) rotate(0.03deg);">Variable</div>
<div class="t" style="font-size:5.9px;color:#fff;line-height:6px;left:489px;top:283px;transform:translate(0.18px,0.53px) rotate(0.03deg);">Febrero</div>
<div class="t" style="font-size:5.9px;color:#fff;line-height:6px;left:531px;top:283px;transform:translate(0.61px,0.53px) rotate(0.03deg);">Marzo</div>
<div class="t" style="font-size:5.9px;color:#fff;line-height:6px;left:572px;top:283px;transform:translate(0.90px,0.53px) rotate(0.03deg);">Abril</div>
<div class="t" style="font-size:5.9px;color:#fff;line-height:6px;left:610px;top:283px;transform:translate(0.80px,0.53px) rotate(0.03deg);">Mayo</div>
<div class="t" style="font-size:5.9px;color:#fff;line-height:6px;left:650px;top:283px;transform:translate(0.35px,0.53px) rotate(0.03deg);">Junio</div>
<div class="t b" style="font-size:6.7px;color:#222;line-height:7px;left:381px;top:300px;transform:translate(0.00px,0.00px) rotate(0.03deg) scaleX(1.030);">Panorama Político</div>
<div class="t" style="font-size:6.9px;color:#333;-webkit-text-stroke:0.05px #333;line-height:7px;left:489px;top:300px;transform:translate(0.73px,0.07px) rotate(0.03deg);">55.5%</div>
<div class="t" style="font-size:6.9px;color:#333;-webkit-text-stroke:0.05px #333;line-height:7px;left:530px;top:300px;transform:translate(0.03px,0.07px) rotate(0.03deg);">50.8%</div>
<div class="t" style="font-size:6.9px;color:#333;-webkit-text-stroke:0.05px #333;line-height:7px;left:569px;top:300px;transform:translate(0.03px,0.07px) rotate(0.03deg);">42.5%</div>
<div class="t" style="font-size:6.9px;color:#333;-webkit-text-stroke:0.05px #333;line-height:7px;left:608px;top:300px;transform:translate(0.23px,0.07px) rotate(0.03deg);">50.0%</div>
<div class="t" style="font-size:6.9px;color:#333;-webkit-text-stroke:0.05px #333;line-height:7px;left:647px;top:300px;transform:translate(0.63px,0.07px) rotate(0.03deg);">36.4%</div>
<div class="t b" style="font-size:6.7px;color:#222;line-height:7px;left:381px;top:314px;transform:translate(0.00px,0.50px) rotate(0.03deg) scaleX(1.030);">Una actividad económica</div>
<div class="t b" style="font-size:6.7px;color:#222;line-height:7px;left:381px;top:323px;transform:translate(0.00px,0.20px) rotate(0.03deg) scaleX(1.030);">débil</div>
<div class="t" style="font-size:6.9px;color:#333;-webkit-text-stroke:0.05px #333;line-height:7px;left:489px;top:318px;transform:translate(0.73px,0.97px) rotate(0.03deg);">35.5%</div>
<div class="t" style="font-size:6.9px;color:#333;-webkit-text-stroke:0.05px #333;line-height:7px;left:530px;top:318px;transform:translate(0.03px,0.97px) rotate(0.03deg);">31.1%</div>
<div class="t" style="font-size:6.9px;color:#333;-webkit-text-stroke:0.05px #333;line-height:7px;left:569px;top:318px;transform:translate(0.03px,0.97px) rotate(0.03deg);">32.7%</div>
<div class="t" style="font-size:6.9px;color:#333;-webkit-text-stroke:0.05px #333;line-height:7px;left:608px;top:318px;transform:translate(0.23px,0.97px) rotate(0.03deg);">37.3%</div>
<div class="t" style="font-size:6.9px;color:#333;-webkit-text-stroke:0.05px #333;line-height:7px;left:647px;top:318px;transform:translate(0.63px,0.97px) rotate(0.03deg);">36.4%</div>
<div class="t b" style="font-size:6.7px;color:#222;line-height:7px;left:381px;top:336px;transform:translate(0.00px,0.95px) rotate(0.03deg) scaleX(1.030);">El entorno internacional</div>
<div class="t b" style="font-size:6.7px;color:#222;line-height:7px;left:381px;top:345px;transform:translate(0.00px,0.65px) rotate(0.03deg) scaleX(1.030);">adverso</div>
<div class="t" style="font-size:6.9px;color:#333;-webkit-text-stroke:0.05px #333;line-height:7px;left:489px;top:341px;transform:translate(0.73px,0.42px) rotate(0.03deg);">35.5%</div>
<div class="t" style="font-size:6.9px;color:#333;-webkit-text-stroke:0.05px #333;line-height:7px;left:530px;top:341px;transform:translate(0.03px,0.42px) rotate(0.03deg);">39.3%</div>
<div class="t" style="font-size:6.9px;color:#333;-webkit-text-stroke:0.05px #333;line-height:7px;left:569px;top:341px;transform:translate(0.03px,0.42px) rotate(0.03deg);">33.6%</div>
<div class="t" style="font-size:6.9px;color:#333;-webkit-text-stroke:0.05px #333;line-height:7px;left:608px;top:341px;transform:translate(0.23px,0.42px) rotate(0.03deg);">25.5%</div>
<div class="t" style="font-size:6.9px;color:#333;-webkit-text-stroke:0.05px #333;line-height:7px;left:647px;top:341px;transform:translate(0.63px,0.42px) rotate(0.03deg);">33.9%</div>
<div class="t b" style="font-size:6.7px;color:#222;line-height:7px;left:381px;top:358px;transform:translate(0.00px,0.45px) rotate(0.03deg) scaleX(1.030);">Una menor demanda</div>
<div class="t b" style="font-size:6.7px;color:#222;line-height:7px;left:381px;top:367px;transform:translate(0.00px,0.15px) rotate(0.03deg) scaleX(1.030);">externa</div>
<div class="t" style="font-size:6.9px;color:#333;-webkit-text-stroke:0.05px #333;line-height:7px;left:489px;top:362px;transform:translate(0.73px,0.92px) rotate(0.03deg);">28.2%</div>
<div class="t" style="font-size:6.9px;color:#333;-webkit-text-stroke:0.05px #333;line-height:7px;left:530px;top:362px;transform:translate(0.03px,0.92px) rotate(0.03deg);">23.8%</div>
<div class="t" style="font-size:6.9px;color:#333;-webkit-text-stroke:0.05px #333;line-height:7px;left:569px;top:362px;transform:translate(0.03px,0.92px) rotate(0.03deg);">31.0%</div>
<div class="t" style="font-size:6.9px;color:#333;-webkit-text-stroke:0.05px #333;line-height:7px;left:608px;top:362px;transform:translate(0.23px,0.92px) rotate(0.03deg);">33.3%</div>
<div class="t" style="font-size:6.9px;color:#333;-webkit-text-stroke:0.05px #333;line-height:7px;left:647px;top:362px;transform:translate(0.63px,0.92px) rotate(0.03deg);">33.1%</div>
<div class="t b" style="font-size:6.7px;color:#222;line-height:7px;left:381px;top:378px;transform:translate(0.00px,0.80px) rotate(0.03deg) scaleX(1.030);">Incremento en el precio de</div>
<div class="t b" style="font-size:6.7px;color:#222;line-height:7px;left:381px;top:387px;transform:translate(0.00px,0.50px) rotate(0.03deg) scaleX(1.030);">las materias primas</div>
<div class="t" style="font-size:6.9px;color:#333;-webkit-text-stroke:0.05px #333;line-height:7px;left:489px;top:383px;transform:translate(0.73px,0.27px) rotate(0.03deg);">21.8%</div>
<div class="t" style="font-size:6.9px;color:#333;-webkit-text-stroke:0.05px #333;line-height:7px;left:530px;top:383px;transform:translate(0.03px,0.27px) rotate(0.03deg);">19.7%</div>
<div class="t" style="font-size:6.9px;color:#333;-webkit-text-stroke:0.05px #333;line-height:7px;left:569px;top:383px;transform:translate(0.03px,0.27px) rotate(0.03deg);">17.7%</div>
<div class="t" style="font-size:6.9px;color:#333;-webkit-text-stroke:0.05px #333;line-height:7px;left:608px;top:383px;transform:translate(0.23px,0.27px) rotate(0.03deg);">19.6%</div>
<div class="t" style="font-size:6.9px;color:#333;-webkit-text-stroke:0.05px #333;line-height:7px;left:647px;top:383px;transform:translate(0.63px,0.27px) rotate(0.03deg);">23.1%</div>
<div class="t b" style="font-size:6.7px;color:#222;line-height:7px;left:381px;top:407px;transform:translate(0.00px,0.35px) rotate(0.03deg) scaleX(1.030);">Inseguridad</div>
<div class="t" style="font-size:6.9px;color:#333;-webkit-text-stroke:0.05px #333;line-height:7px;left:489px;top:407px;transform:translate(0.73px,0.42px) rotate(0.03deg);">20.9%</div>
<div class="t" style="font-size:6.9px;color:#333;-webkit-text-stroke:0.05px #333;line-height:7px;left:530px;top:407px;transform:translate(0.03px,0.42px) rotate(0.03deg);">16.4%</div>
<div class="t" style="font-size:6.9px;color:#333;-webkit-text-stroke:0.05px #333;line-height:7px;left:569px;top:407px;transform:translate(0.03px,0.42px) rotate(0.03deg);">17.7%</div>
<div class="t" style="font-size:6.9px;color:#333;-webkit-text-stroke:0.05px #333;line-height:7px;left:608px;top:407px;transform:translate(0.23px,0.42px) rotate(0.03deg);">22.5%</div>
<div class="t" style="font-size:6.9px;color:#333;-webkit-text-stroke:0.05px #333;line-height:7px;left:647px;top:407px;transform:translate(0.63px,0.42px) rotate(0.03deg);">22.3%</div>
<div class="t b" style="font-size:6.7px;color:#222;line-height:7px;left:381px;top:426px;transform:translate(0.00px,0.15px) rotate(0.03deg) scaleX(1.030);">Escasez de personal</div>
<div class="t b" style="font-size:6.7px;color:#222;line-height:7px;left:381px;top:434px;transform:translate(0.00px,0.85px) rotate(0.03deg) scaleX(1.030);">capacitado</div>
<div class="t" style="font-size:6.9px;color:#333;-webkit-text-stroke:0.05px #333;line-height:7px;left:489px;top:430px;transform:translate(0.73px,0.62px) rotate(0.03deg);">22.7%</div>
<div class="t" style="font-size:6.9px;color:#333;-webkit-text-stroke:0.05px #333;line-height:7px;left:530px;top:430px;transform:translate(0.03px,0.62px) rotate(0.03deg);">29.5%</div>
<div class="t" style="font-size:6.9px;color:#333;-webkit-text-stroke:0.05px #333;line-height:7px;left:569px;top:430px;transform:translate(0.03px,0.62px) rotate(0.03deg);">29.2%</div>
<div class="t" style="font-size:6.9px;color:#333;-webkit-text-stroke:0.05px #333;line-height:7px;left:608px;top:430px;transform:translate(0.23px,0.62px) rotate(0.03deg);">30.4%</div>
<div class="t" style="font-size:6.9px;color:#333;-webkit-text-stroke:0.05px #333;line-height:7px;left:647px;top:430px;transform:translate(0.63px,0.62px) rotate(0.03deg);">21.5%</div>
<div class="t" style="font-size:9.3px;color:#000;font-family:'Liberation Serif',serif;-webkit-text-stroke:0.35px #000;line-height:10px;left:167px;top:507px;transform:translate(0.00px,0.35px) rotate(0.03deg) scaleX(1.032);">121</div>
<div class="pl" style="left:56px;top:478px;width:533.80px;font-size:8.2px;line-height:9px;transform:translate(0.60px,0.56px) rotate(0.03deg) scaleX(1.08);">Los indicadores de expectativas buscan conocer de forma cualitativa la situación coyuntural de la industria manufacturera de Nuevo</div>
<div class="pl" style="left:56px;top:491px;width:533.80px;font-size:8.2px;line-height:9px;transform:translate(0.60px,0.26px) rotate(0.03deg) scaleX(1.08);">León, mediante la perspectiva de los directivos de las empresas en diversas variables relacionadas con su operación. Para ello, a los</div>
<div class="pl" style="left:56px;top:503px;width:533.80px;font-size:8.2px;line-height:9px;transform:translate(0.60px,0.96px) rotate(0.03deg) scaleX(1.08);">empresarios se les cuestiona mes con mes cómo se comportó una lista de variables con relación al período anterior, teniendo la</div>
<div class="pl" style="left:56px;top:516px;width:533.80px;font-size:8.2px;line-height:9px;transform:translate(0.60px,0.46px) rotate(0.03deg) scaleX(1.08);">posibilidad de responder: mucho menor, menor, igual, mayor, mucho mayor. Con esto, se elabora un índice cuya importancia radica en</div>
<div class="pl" style="left:56px;top:529px;width:533.80px;font-size:8.2px;line-height:9px;transform:translate(0.60px,0.16px) rotate(0.03deg) scaleX(1.08);">que, si el número obtenido se encuentra por arriba de 50 puntos, la variable se encuentra en expansión; pero si está por debajo de esta</div>
<div class="pl last" style="left:56px;top:541px;width:533.80px;font-size:8.2px;line-height:9px;transform:translate(0.60px,0.86px) rotate(0.03deg) scaleX(1.08);">magnitud, significa una contracción.</div>
<div style="position:absolute;left:80px;top:278px;width:215px;height:6px;background:#fff"></div>
</div></body></html>
